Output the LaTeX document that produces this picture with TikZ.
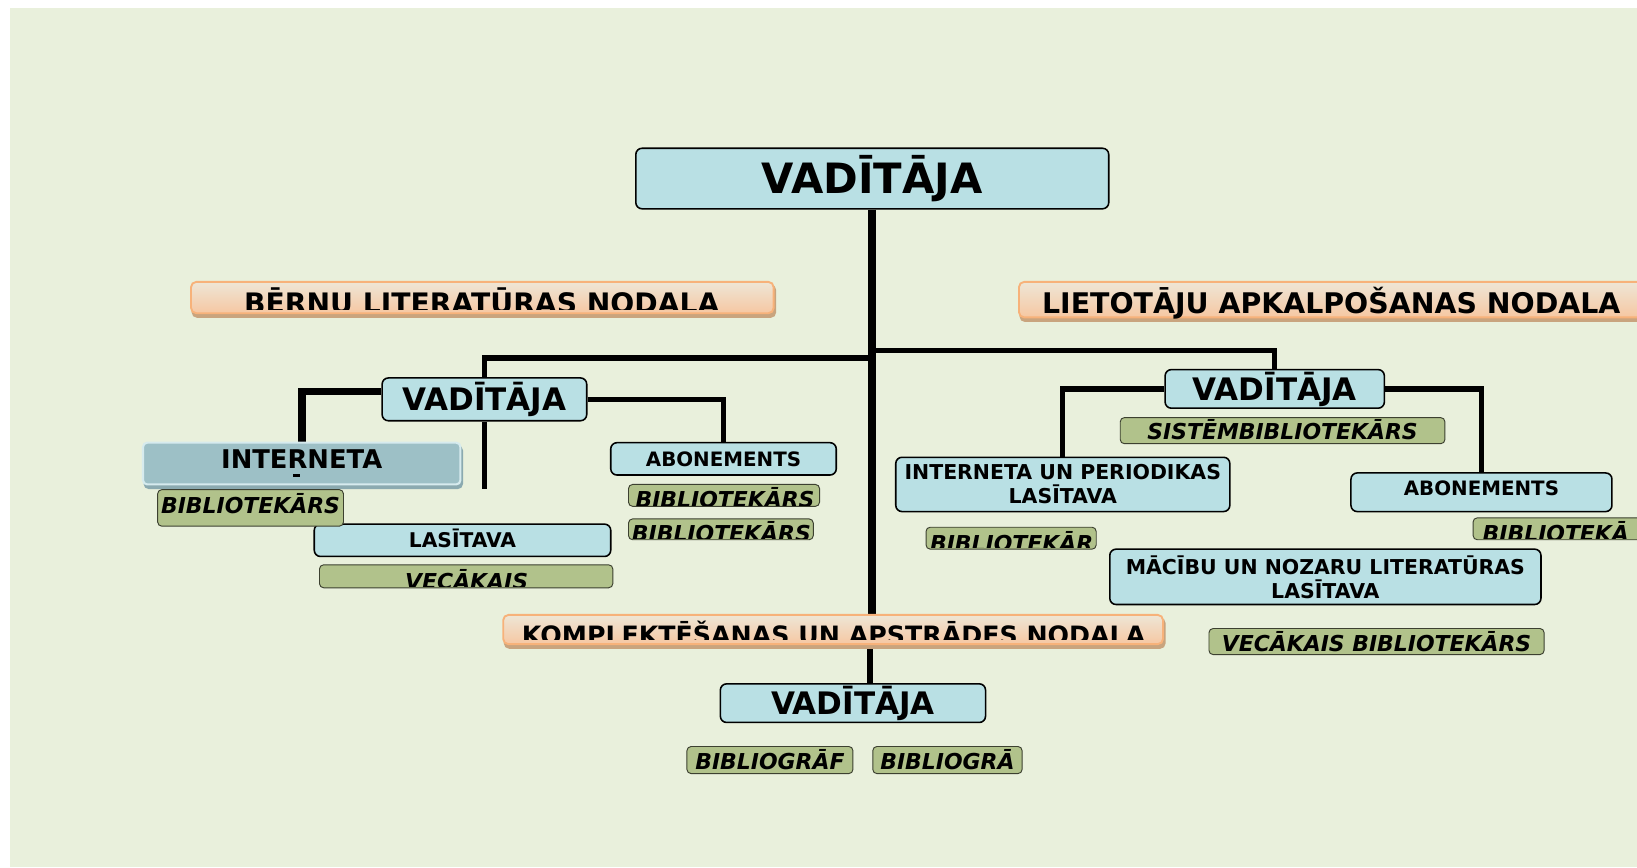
\documentclass[tikz,border=0pt]{standalone}
\usepackage{fontspec}
\setmainfont{DejaVu Sans}
\definecolor{bgc}{HTML}{E9F0DC}
\definecolor{boxblue}{HTML}{B9E0E4}
\definecolor{gfill}{HTML}{B1C28B}
\definecolor{gborder}{HTML}{3C4030}
\definecolor{inetfill}{HTML}{9DC0C6}
\definecolor{inetborder}{HTML}{D6EBEE}
\definecolor{inetshadow}{HTML}{8BAAB0}
\definecolor{bantop}{HTML}{EEE6D6}
\definecolor{banbot}{HTML}{F6C7A2}
\definecolor{banborder}{HTML}{F7B27A}
\definecolor{banshadow}{HTML}{C9A47E}
\pgfdeclarelayer{back}
\pgfdeclarelayer{lines}
\pgfdeclarelayer{shade}
\pgfsetlayers{back,lines,shade,main}
\tikzset{
  bluebox/.style={draw=black, line width=1.5pt, fill=boxblue, rounded corners=6pt, inner sep=0pt, align=center},
  oneline/.style={text height=#1, text depth=0pt},
  greenbox/.style={draw=gborder, line width=0.9pt, fill=gfill, rounded corners=4pt, inner sep=0pt},
  gtext/.style={font=\bfseries\itshape\fontsize{21}{25}\selectfont, inner sep=0pt},
  banner/.style={draw=banborder, line width=1.8pt, top color=bantop, bottom color=banbot, rounded corners=5pt, inner sep=0pt},
  bantext/.style={inner sep=0pt},
  inetbox/.style={draw=inetborder, line width=2pt, fill=inetfill, rounded corners=4pt, inner sep=0pt},
  conn/.style={draw=black, line width=5pt},
  thickconn/.style={draw=black, line width=7.3pt},
  shadowfill/.style={fill=#1, rounded corners=5pt},
}
\begin{document}
\begin{tikzpicture}[x=1pt, y=-1pt]
\useasboundingbox (0,0) rectangle (1568,830.5);
\begin{pgfonlayer}{back}
  \fill[bgc] (9.6,7.7) rectangle (1568,830.5);
\end{pgfonlayer}

% ---- top
\node[bluebox, oneline=29.2pt, minimum width=453pt, minimum height=58pt, font=\bfseries\fontsize{40}{48}\selectfont] (topV) at (835.5,171) {VADĪTĀJA};

% ---- banners
\node[banner, minimum width=558pt, minimum height=30pt] (bernu) at (462,285) {};
\begin{scope}
  \clip (183,270) rectangle (741,296.5);
  \node[bantext, anchor=base, font=\bfseries\fontsize{27}{32}\selectfont] (bernuT) at (461.5,300.5) {BĒRNU LITERATŪRAS NODALA};
\end{scope}

\node[banner, minimum width=624pt, minimum height=34pt] (liet) at (1288,287) {};
\node[bantext, anchor=base west, font=\bfseries\fontsize{27.2}{32}\selectfont] (lietT) at (998,300) {LIETOTĀJU APKALPOŠANAS NODALA};

\node[banner, minimum width=632pt, minimum height=28pt] (komp) at (798,603) {};
\begin{scope}
  \clip (482,589) rectangle (1114,613);
  \node[bantext, anchor=base, font=\bfseries\fontsize{24.2}{29}\selectfont] (kompT) at (798.5,617) {KOMPLEKTĒŠANAS UN APSTRĀDES NODALA};
\end{scope}

% ---- left department
\node[bluebox, oneline=21.7pt, minimum width=196pt, minimum height=41pt, font=\bfseries\fontsize{29.7}{36}\selectfont] (leftV) at (464,382.5) {VADĪTĀJA};
\node[inetbox, text height=18pt, text depth=9pt, minimum width=304pt, minimum height=40pt, font=\bfseries\fontsize{24.7}{30}\selectfont] (inet) at (289,444) {INTERNETA};
\fill[black] (281,454) rectangle (287,456.5);
\node[bluebox, oneline=14.1pt, minimum width=284pt, minimum height=31pt, font=\bfseries\fontsize{19.4}{23}\selectfont] (lasL) at (443,517.5) {LASĪTAVA};
\node[greenbox, gtext, text height=15.3pt, text depth=5pt, minimum width=178pt, minimum height=35pt] (bibL) at (240,486.5) {BIBLIOTEKĀRS};
\node[greenbox, minimum width=281pt, minimum height=22pt] (vecL) at (446.5,552) {};
\begin{scope}
  \clip (306,541) rectangle (587,562);
  \node[gtext, anchor=base] (vecLT) at (447,565) {VECĀKAIS};
\end{scope}
\node[bluebox, oneline=13.9pt, minimum width=216pt, minimum height=31pt, font=\bfseries\fontsize{19}{23}\selectfont] (abonL) at (693,439.5) {ABONEMENTS};
\node[greenbox, minimum width=183pt, minimum height=21pt] (bibA1) at (693.5,474.5) {};
\begin{scope}
  \clip (602,464) rectangle (785,484);
  \node[gtext, anchor=base] (bibA1T) at (694.5,486.5) {BIBLIOTEKĀRS};
\end{scope}
\node[greenbox, minimum width=177pt, minimum height=20pt] (bibA2) at (690.5,507) {};
\begin{scope}
  \clip (602,497) rectangle (779,516);
  \node[gtext, anchor=base] (bibA2T) at (691,518.5) {BIBLIOTEKĀRS};
\end{scope}

% ---- right department
\node[bluebox, oneline=21.7pt, minimum width=210pt, minimum height=37pt, font=\bfseries\fontsize{29.7}{36}\selectfont] (rightV) at (1221,372.5) {VADĪTĀJA};
\node[greenbox, gtext, oneline=17.3pt, minimum width=311pt, minimum height=25pt] (sist) at (1228.5,412.5) {SISTĒMBIBLIOTEKĀRS};
\node[bluebox, minimum width=320pt, minimum height=52pt, font=\bfseries\fontsize{19.6}{23}\selectfont] (inetP) at (1018,464) {INTERNETA UN PERIODIKAS\\LASĪTAVA};
\node[greenbox, minimum width=163pt, minimum height=21pt] (bibP) at (968.5,515.5) {};
\begin{scope}
  \clip (887,505) rectangle (1050,524.5);
  \node[gtext, anchor=base] (bibPT) at (969,528) {BIBLIOTEKĀR};
\end{scope}
\node[bluebox, text height=13.9pt, text depth=7pt, minimum width=250pt, minimum height=37pt, font=\bfseries\fontsize{19}{23}\selectfont] (abonR) at (1419,471.5) {ABONEMENTS};
\node[greenbox, minimum width=200pt, minimum height=21pt] (bibR) at (1511,506.5) {};
\begin{scope}
  \clip (1411,496) rectangle (1568,515.5);
  \node[gtext, anchor=base west] (bibRT) at (1420,518.5) {BIBLIOTEKĀ};
\end{scope}
\node[bluebox, minimum width=413pt, minimum height=53pt, font=\bfseries\fontsize{19.6}{23}\selectfont] (maci) at (1269.5,552.5) {MĀCĪBU UN NOZARU LITERATŪRAS\\LASĪTAVA};
\node[greenbox, gtext, oneline=18.3pt, minimum width=321pt, minimum height=25pt] (vecR) at (1318.5,614.5) {VECĀKAIS BIBLIOTEKĀRS};

% ---- bottom department
\node[bluebox, oneline=21.7pt, minimum width=254pt, minimum height=37pt, font=\bfseries\fontsize{29.7}{36}\selectfont] (botV) at (817,673.5) {VADĪTĀJA};
\node[greenbox, gtext, oneline=18.8pt, minimum width=159pt, minimum height=26pt] (bg1) at (737.5,728) {BIBLIOGRĀF};
\node[greenbox, gtext, oneline=18.8pt, minimum width=143pt, minimum height=26pt] (bg2) at (907.5,728) {BIBLIOGRĀ};

% ---- shadows under banners and the INTERNETA box
\begin{pgfonlayer}{shade}
  \foreach \b in {bernu, liet, komp}
    \fill[shadowfill=banshadow] ([xshift=1.5pt,yshift=-3.5pt]\b.north west) rectangle ([xshift=1.5pt,yshift=-3.5pt]\b.south east);
  \fill[shadowfill=inetshadow] ([xshift=1.5pt,yshift=-3.5pt]inet.north west) rectangle ([xshift=1.5pt,yshift=-3.5pt]inet.south east);
\end{pgfonlayer}

% ---- connectors
\coordinate (jL) at (835.5,343);
\coordinate (jR) at (835.5,336);
\coordinate (kb) at (833,616);
\coordinate (lend) at (464,468);
\begin{pgfonlayer}{lines}
  \draw[thickconn] (topV.south) -- (topV.south |- komp.north);
  \draw[conn, line width=5.5pt] (kb) -- (kb |- botV.north);
  \draw[conn] (jL) -| (leftV.north);
  \draw[conn] (jR) -| (rightV.north);
  \draw[thickconn] ([yshift=7.5pt]leftV.west) -| (inet.north);
  \draw[conn] (leftV.east) -| (abonL.north);
  \draw[conn] (leftV.south) -- (lend);
  \draw[conn] (rightV.west) -| (inetP.north);
  \draw[conn] (rightV.east) -| (abonR.north);
\end{pgfonlayer}
\end{tikzpicture}
\end{document}
